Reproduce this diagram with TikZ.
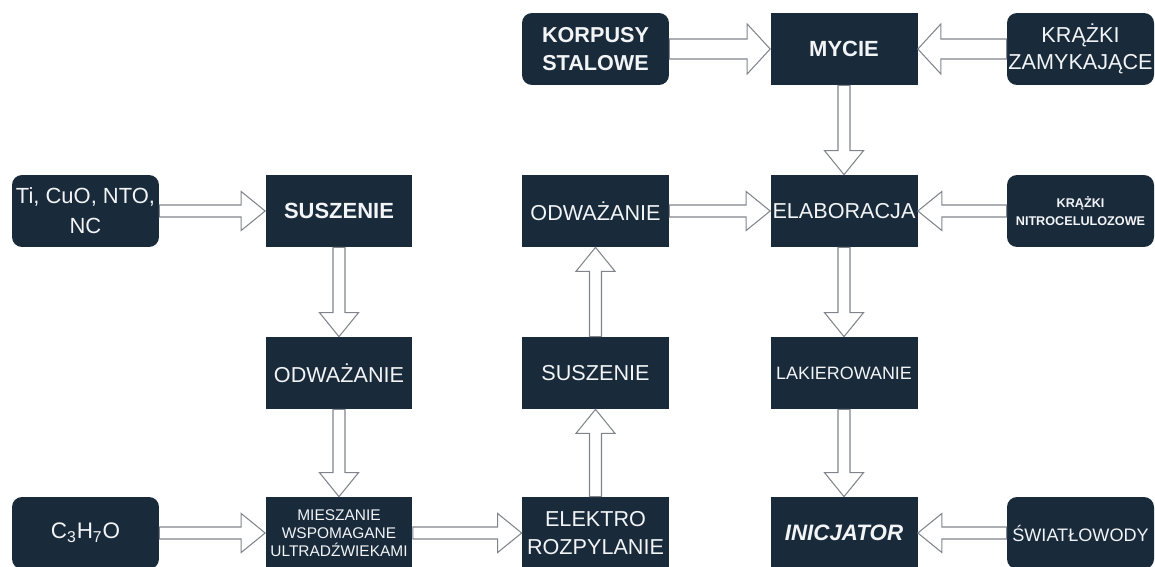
\documentclass[tikz,border=0pt]{standalone}
\usepackage{fontspec}
\setmainfont{Liberation Sans}
\usepackage{tikz}
\usepackage{xcolor}
\definecolor{navy}{RGB}{25,42,59}
\definecolor{frame}{RGB}{128,133,140}
\definecolor{label}{RGB}{242,244,246}
\usetikzlibrary{calc,positioning}

\def\fatS{0.12cm}\def\fatH{0.39cm}\def\fatL{0.48cm}

\tikzset{
    box/.style={fill=navy, text=label, minimum width=2.94cm, minimum height=1.44cm,
        align=center, inner sep=0pt, font=\fontsize{12.3}{15.5}\selectfont},
    src/.style={box, rounded corners=0.2cm},
    fat/.style={draw=frame, fill=white, line width=0.6pt, to path={
        ($(\tikztostart)!\fatS!90:(\tikztotarget)$)
        -- ($(\tikztotarget)!\fatL!(\tikztostart)!\fatS!90:(\tikztotarget)$)
        -- ($(\tikztotarget)!\fatL!(\tikztostart)!\fatH!90:(\tikztotarget)$)
        -- (\tikztotarget)
        -- ($(\tikztotarget)!\fatL!(\tikztostart)!\fatH!-90:(\tikztotarget)$)
        -- ($(\tikztotarget)!\fatL!(\tikztostart)!\fatS!-90:(\tikztotarget)$)
        -- ($(\tikztostart)!\fatS!-90:(\tikztotarget)$) -- cycle}},
    wide/.style={fat, /utils/exec={\def\fatS{0.2cm}\def\fatH{0.5cm}\def\fatL{0.46cm}}}
}

\begin{document}
\begin{tikzpicture}[x=0.02cm, y=-0.02cm]
    \useasboundingbox (0,0) rectangle (1155,567);
    \node[src, font=\fontsize{12.5}{17}\selectfont] (ti) at (85.5,211) {Ti, CuO, NTO,\\NC};
    \node[box, font=\fontsize{12.5}{15.5}\selectfont\bfseries] (susz1) at (339,211) {SUSZENIE};
    \node[box] (odw1) at (339,373) {ODWAŻANIE};
    \node[src, font=\fontsize{12.8}{15.5}\selectfont] (c3h7o) at (85.5,533) {C\textsubscript{3}H\textsubscript{7}O};
    \node[box, font=\fontsize{8.8}{10.2}\selectfont] (miesz) at (339,533) {MIESZANIE\\WSPOMAGANE\\ULTRADŹWIEKAMI};
    \node[box, font=\fontsize{12.3}{15.5}\selectfont] (elektro) at (595.5,533) {ELEKTRO\\ROZPYLANIE};
    \node[box] (susz2) at (595.5,373) {SUSZENIE};
    \node[box] (odw2) at (595.5,211) {ODWAŻANIE};
    \node[src, font=\fontsize{12.3}{15.5}\selectfont\bfseries] (korpusy) at (595.5,49) {KORPUSY\\STALOWE};
    \node[box, font=\fontsize{12.5}{15.5}\selectfont\bfseries] (mycie) at (844,49) {MYCIE};
    \node[src] (zamyk) at (1080.5,49) {KRĄŻKI\\ZAMYKAJĄCE};
    \node[box] (elab) at (844,211) {ELABORACJA};
    \node[src, font=\fontsize{7.2}{10.2}\selectfont\bfseries] (nitro) at (1080.5,211) {KRĄŻKI\\NITROCELULOZOWE};
    \node[box, font=\fontsize{10.2}{12}\selectfont] (lakier) at (844,373) {LAKIEROWANIE};
    \node[box, font=\fontsize{12.7}{15.5}\selectfont\bfseries\itshape] (inicj) at (844,533) {INICJATOR};
    \node[src, font=\fontsize{10.3}{12}\selectfont] (swiatlo) at (1080.5,533) {ŚWIATŁOWODY};

    \draw[fat] (ti.east) to (susz1.west);
    \draw[fat] (susz1.south) to (odw1.north);
    \draw[fat] (odw1.south) to (miesz.north);
    \draw[fat] (c3h7o.east) to (miesz.west);
    \draw[fat] (miesz.east) to (elektro.west);
    \draw[fat] (elektro.north) to (susz2.south);
    \draw[fat] (susz2.north) to (odw2.south);
    \draw[fat] (odw2.east) to (elab.west);
    \draw[wide] (korpusy.east) to (mycie.west);
    \draw[wide] (zamyk.west) to (mycie.east);
    \draw[fat] (mycie.south) to (elab.north);
    \draw[fat] (nitro.west) to (elab.east);
    \draw[fat] (elab.south) to (lakier.north);
    \draw[fat] (lakier.south) to (inicj.north);
    \draw[fat] (swiatlo.west) to (inicj.east);
\end{tikzpicture}
\end{document}
